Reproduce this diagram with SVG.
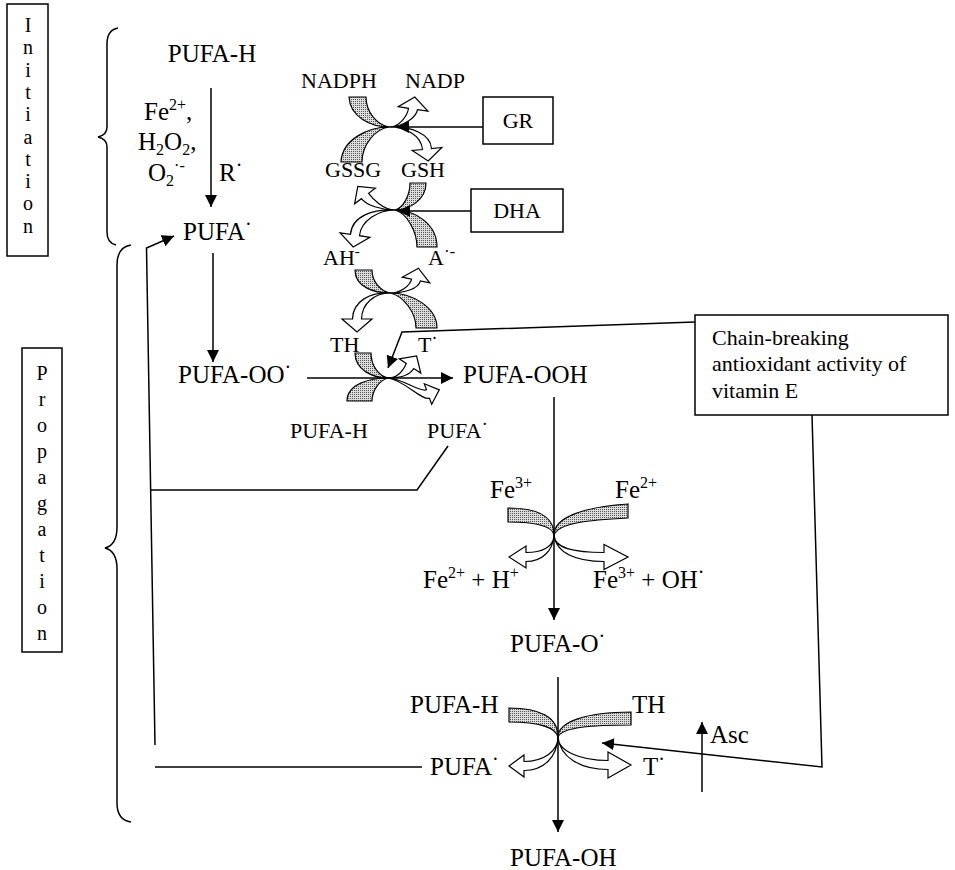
<svg xmlns="http://www.w3.org/2000/svg" width="955" height="870" viewBox="0 0 955 870">
<style>
.t{font-family:"Liberation Serif","Times New Roman",serif;fill:#000}
.L{font-size:25px}
.S{font-size:22px}
.V{font-size:20px;text-anchor:middle}
.d{font-size:20px}
.ln{stroke:#000;stroke-width:1.5;fill:none}
.sh{fill:url(#dots);stroke:#000;stroke-width:1.2}
.ol{fill:#fff;stroke:#000;stroke-width:1.2}
.box{fill:#fff;stroke:#000;stroke-width:1.5}
</style>
<defs>
<pattern id="dots" width="2" height="2" patternUnits="userSpaceOnUse"><rect width="2" height="2" fill="#dcdcdc"/><rect width="1" height="1" fill="#555"/></pattern>
<marker id="ah" viewBox="0 0 12 12" refX="12" refY="6" markerWidth="12" markerHeight="12" markerUnits="userSpaceOnUse" orient="auto"><path d="M0,0 L12,6 L0,12 Z" fill="#000"/></marker>
</defs>
<rect width="955" height="870" fill="#fff"/>

<g id="initiation">
<rect class="box" x="7" y="4" width="41" height="252"/>
<text class="t V" x="28" y="32">I</text><text class="t V" x="28" y="54">n</text><text class="t V" x="28" y="77">i</text><text class="t V" x="28" y="99">t</text><text class="t V" x="28" y="121">i</text><text class="t V" x="28" y="144">a</text><text class="t V" x="28" y="166">t</text><text class="t V" x="28" y="188">i</text><text class="t V" x="28" y="210">o</text><text class="t V" x="28" y="233">n</text>
<path class="ln" d="M118,28 Q107,30 107,44 L107,127 Q107,135 98,137 Q107,139 107,147 L107,232 Q107,243 116,245"/>
</g>

<g id="propagation">
<rect class="box" x="22" y="348" width="40" height="304"/>
<text class="t V" x="42" y="380">P</text><text class="t V" x="42" y="406">r</text><text class="t V" x="42" y="432">o</text><text class="t V" x="42" y="458">p</text><text class="t V" x="42" y="484">a</text><text class="t V" x="42" y="510">g</text><text class="t V" x="42" y="536">a</text><text class="t V" x="42" y="562">t</text><text class="t V" x="42" y="588">i</text><text class="t V" x="42" y="614">o</text><text class="t V" x="42" y="640">n</text>
<path class="ln" d="M131,245 Q117,247 117,265 L117,527 Q117,545 105,548 Q117,551 117,569 L117,803 Q117,820 131,822"/>
</g>

<g id="pufa-h-top"><text class="t L" x="212" y="62" text-anchor="middle">PUFA-H</text></g>
<g id="initiators">
<text class="t L" x="144" y="120">Fe<tspan font-size="16" dy="-10">2+</tspan><tspan dy="10">,</tspan></text>
<text class="t L" x="138" y="150">H<tspan font-size="16" dy="5">2</tspan><tspan dy="-5">O</tspan><tspan font-size="16" dy="5">2</tspan><tspan dy="-5">,</tspan></text>
<text class="t L" x="148" y="181">O<tspan font-size="16" dy="5">2</tspan><tspan font-size="16" dy="-15">·-</tspan></text>
<text class="t L" x="219" y="181">R<tspan class="d" dy="-9">·</tspan></text>
</g>
<g id="pufa-radical-top"><text class="t L" x="183" y="240">PUFA<tspan class="d" dy="-9">·</tspan></text></g>

<g id="nadph"><text class="t S" x="301" y="88">NADPH</text></g>
<g id="nadp"><text class="t S" x="405" y="88">NADP</text></g>
<g id="gr"><rect class="box" x="483" y="97" width="70" height="47"/><text class="t S" x="518" y="128" text-anchor="middle">GR</text></g>
<g id="gssg"><text class="t S" x="325" y="177">GSSG</text></g>
<g id="gsh"><text class="t S" x="401" y="177">GSH</text></g>
<g id="dha"><rect class="box" x="471" y="189" width="92" height="43"/><text class="t S" x="517" y="218" text-anchor="middle">DHA</text></g>
<g id="ah-minus"><text class="t S" x="323" y="265">AH<tspan font-size="15" dy="-9">-</tspan></text></g>
<g id="a-radical"><text class="t S" x="428" y="265">A<tspan font-size="17" dy="-8">·-</tspan></text></g>
<g id="th-1"><text class="t S" x="330" y="352">TH</text></g>
<g id="t-radical-1"><text class="t S" x="418" y="352">T<tspan font-size="18" dy="-8">·</tspan></text></g>
<g id="pufa-oo"><text class="t L" x="178" y="383">PUFA-OO<tspan class="d" dy="-9">·</tspan></text></g>
<g id="pufa-ooh"><text class="t L" x="463" y="383">PUFA-OOH</text></g>
<g id="pufa-h-mid"><text class="t S" x="290" y="438">PUFA-H</text></g>
<g id="pufa-radical-mid"><text class="t S" x="427" y="438">PUFA<tspan font-size="18" dy="-8">·</tspan></text></g>

<g id="vitamin-e">
<rect class="box" x="695" y="315" width="253" height="100"/>
<text class="t S" x="712" y="345">Chain-breaking</text>
<text class="t S" x="712" y="371">antioxidant activity of</text>
<text class="t S" x="712" y="398">vitamin E</text>
</g>

<g id="fe-labels">
<text class="t L" x="490" y="498">Fe<tspan font-size="16" dy="-10">3+</tspan></text>
<text class="t L" x="615" y="498">Fe<tspan font-size="16" dy="-10">2+</tspan></text>
<text class="t L" x="423" y="588">Fe<tspan font-size="16" dy="-10">2+</tspan><tspan dy="10"> + H</tspan><tspan font-size="16" dy="-10">+</tspan></text>
<text class="t L" x="593" y="588">Fe<tspan font-size="16" dy="-10">3+</tspan><tspan dy="10"> + OH</tspan><tspan class="d" dy="-9">·</tspan></text>
</g>
<g id="pufa-o"><text class="t L" x="510" y="652">PUFA-O<tspan class="d" dy="-9">·</tspan></text></g>
<g id="pufa-h-low"><text class="t L" x="410" y="713">PUFA-H</text></g>
<g id="th-2"><text class="t L" x="632" y="713">TH</text></g>
<g id="pufa-radical-low"><text class="t L" x="430" y="775">PUFA<tspan class="d" dy="-9">·</tspan></text></g>
<g id="t-radical-2"><text class="t L" x="643" y="775">T<tspan class="d" dy="-9">·</tspan></text></g>
<g id="asc"><text class="t L" x="710" y="743">Asc</text></g>
<g id="pufa-oh"><text class="t L" x="510" y="866">PUFA-OH</text></g>

<g id="x-gr" transform="translate(389,127)">
<path class="sh" d="M0,0 C-18,0 -39,-10 -40,-30 L-23,-30 C-23,-15 -12,-2 0,0 Z"/>
<path class="sh" d="M0,0 C-20,0 -47,12 -48,35 L-27,35 C-27,18 -14,2 0,0 Z"/>
<path class="ol" d="M0,0 C10,0 18.6,-11 19.5,-18.7 L9.2,-20.3 L25.8,-29.9 L38.9,-15.8 L28.5,-17.3 C27.3,-9.4 14,0 0,0 Z"/>
<path class="ol" d="M0,0 C16,0 32,8 33.5,22.5 L23.2,23.5 L39.2,33.9 L52.9,20.5 L42.5,21.5 C41.8,7 22,-1 0,0 Z"/>
</g>
<g id="x-dha" transform="translate(395,210)">
<path class="sh" d="M0,0 C14,0 31,-10 31,-27 L15,-27 C15,-14 8,-2 0,0 Z"/>
<path class="ol" d="M0,0 C-12,0 -22.8,-11.9 -26.4,-16.7 L-19.6,-21.8 L-37.2,-23.6 L-40.4,-6.2 L-33.6,-11.3 C-28.8,-4.9 -14,0 0,0 Z"/>
<path class="sh" d="M0,0 C20,0 42,14 42,37 L22,37 C22,22 12,3 0,0 Z"/>
<path class="ol" d="M0,0 C-16,0 -34,10 -35.5,25.7 L-25.1,27.3 L-41.8,36.9 L-54.9,22.8 L-44.5,24.3 C-43,6 -22,-1 0,0 Z"/>
</g>
<g id="x-ah" transform="translate(390,293)">
<path class="sh" d="M0,0 C-16,0 -35,-6 -35,-23 L-18,-23 C-18,-12 -10,-2 0,0 Z"/>
<path class="ol" d="M0,0 C10,0 20,-7 21.6,-13.9 L12.3,-15.8 L28.4,-24.8 L39.7,-10.2 L30.4,-12.1 C28.5,-4 14,0 0,0 Z"/>
<path class="sh" d="M0,0 C22,0 47,14 47,35 L26,35 C26,20 14,3 0,0 Z"/>
<path class="ol" d="M0,0 C-15,0 -28,10 -28.5,26 L-18,26 L-33,39 L-48,26 L-37.5,26 C-37,8 -20,-1 0,0 Z"/>
</g>
<g id="x-th" transform="translate(388,378)">
<path class="sh" d="M0,0 C-15,0 -33,-8 -33,-25 L-17,-25 C-17,-12 -9,-2 0,0 Z"/>
<path class="ol" d="M0,0 C9,0 15,-7 18.3,-14.5 L11.2,-19.2 L28.6,-22 L32.8,-4.9 L25.7,-9.5 C22,-3 12,0 0,0 Z"/>
<path class="sh" d="M0,0 C-18,0 -41,6 -41,23 L-16,23 C-16,12 -8,2 0,0 Z"/>
<path class="ol" d="M0,0 C14,0 31,14.5 38.5,11.8 L36.3,5.7 L51.3,11.9 L43.7,26.3 L41.5,20.2 C34,22.9 16,2 0,0 Z"/>
</g>
<g id="x-fe" transform="translate(554,535)">
<path class="sh" d="M-46,-27 C-18,-27 0,-20 0,0 C-2,-10 -20,-13 -46,-13 Z"/>
<path class="sh" d="M0,0 C0,-18 30,-28 74,-31 L74,-17 C35,-15 4,-12 0,0 Z"/>
<path class="ol" d="M0,0 C0,12 -12,17.5 -28,17.5 L-28,11 L-45,22 L-28,33 L-28,26.5 C-12,26.5 -1,16 0,0 Z"/>
<path class="ol" d="M0,0 C0,14 22,17.5 50,17.5 L50,9.5 L74,22 L50,34.5 L50,26.5 C22,26.5 2,18 0,0 Z"/>
</g>
<g id="x-bottom" transform="translate(558,737)">
<path class="sh" d="M-49,-29 C-18,-29 0,-20 0,0 C-2,-9 -18,-15 -49,-15 Z"/>
<path class="sh" d="M0,0 C0,-15 28,-25 73,-25 L73,-12 C35,-12 4,-10 0,0 Z"/>
<path class="ol" d="M0,0 C0,14 -14,24.5 -34,24.5 L-34,18 L-49,29 L-34,40 L-34,33.5 C-14,33.5 -1,20 0,0 Z"/>
<path class="ol" d="M0,0 C0,14 22,23.5 50,23.5 L50,15 L73,28 L50,41 L50,32.5 C22,32.5 2,20 0,0 Z"/>
</g>

<g id="connectors">
<path class="ln" d="M211,88 L211,207" marker-end="url(#ah)"/>
<path class="ln" d="M213,253 L213,362" marker-end="url(#ah)"/>
<path class="ln" d="M307,378 L453,378" marker-end="url(#ah)"/>
<path class="ln" d="M483,127 L397,127" marker-end="url(#ah)"/>
<path class="ln" d="M471,211 L398,211" marker-end="url(#ah)"/>
<path class="ln" d="M695,322 L402,332 L388,368" marker-end="url(#ah)"/>
<path class="ln" d="M554,397 L554,620" marker-end="url(#ah)"/>
<path class="ln" d="M558,677 L558,832" marker-end="url(#ah)"/>
<path class="ln" d="M448,446 L417,490 L150,490"/>
<path class="ln" d="M155,745 L146.5,248 L174,236" marker-end="url(#ah)"/>
<path class="ln" d="M155,767 L422,767"/>
<path class="ln" d="M812,415 L822,767 L602,743" marker-end="url(#ah)"/>
<path class="ln" d="M702,792 L702,722" marker-end="url(#ah)"/>
</g>
</svg>
